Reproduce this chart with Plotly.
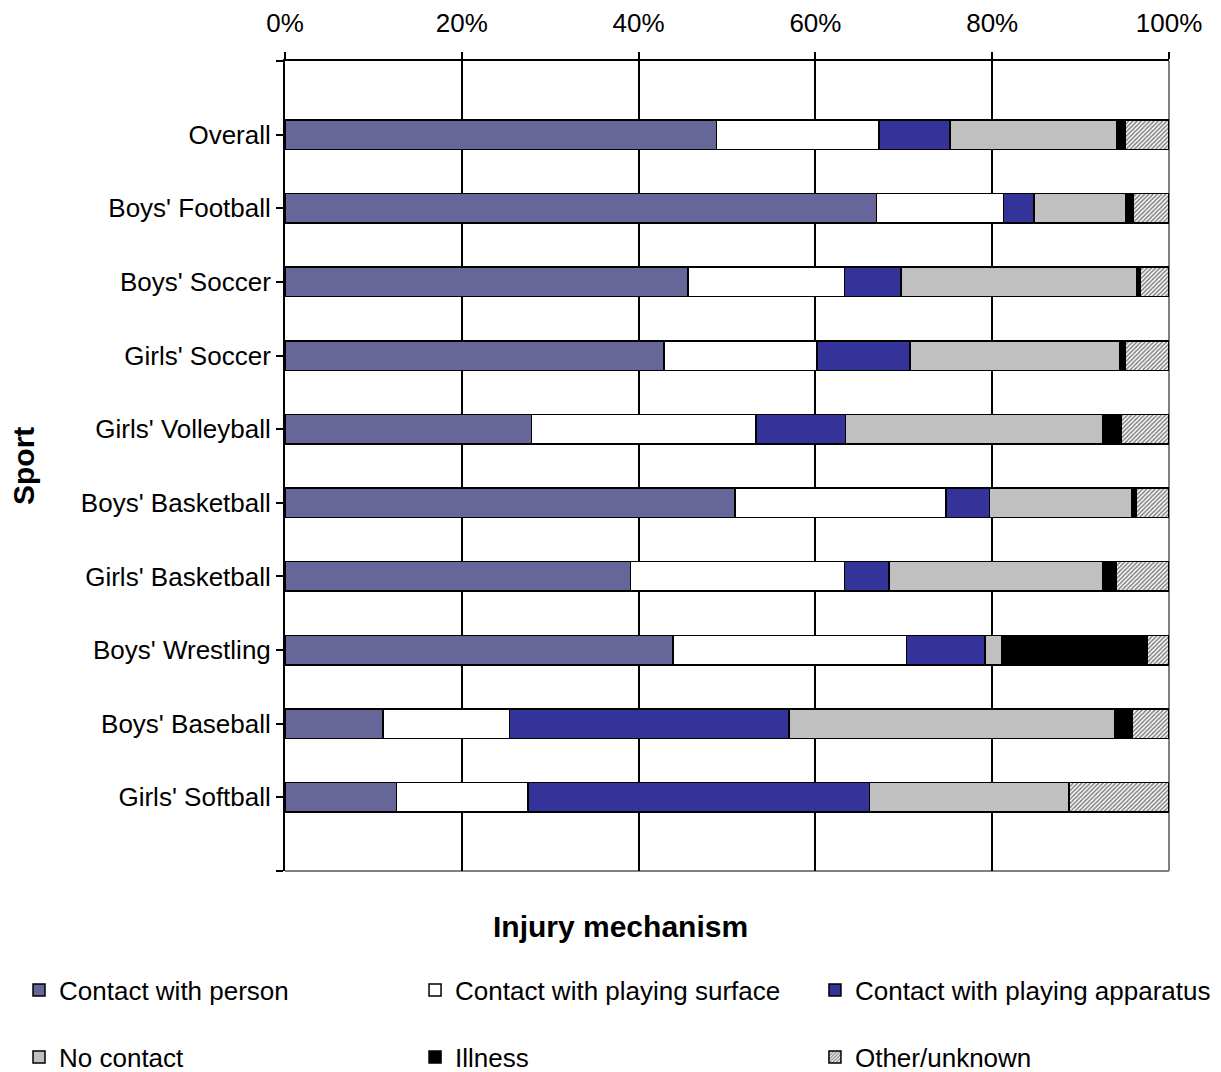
import plotly.graph_objects as go

sports = ["Overall", "Boys' Football", "Boys' Soccer", "Girls' Soccer", "Girls' Volleyball",
          "Boys' Basketball", "Girls' Basketball", "Boys' Wrestling", "Boys' Baseball", "Girls' Softball"]
person = [48.8, 66.9, 45.6, 42.9, 27.9, 50.9, 39.1, 43.9, 11.1, 12.6]
surface = [18.4, 14.4, 17.7, 17.3, 25.4, 23.9, 24.2, 26.4, 14.3, 14.9]
apparatus = [8.0, 3.4, 6.4, 10.5, 10.1, 4.9, 5.0, 8.9, 31.6, 38.6]
nocontact = [18.9, 10.4, 26.7, 23.7, 29.1, 16.1, 24.2, 1.9, 36.9, 22.6]
illness = [1.0, 0.9, 0.3, 0.6, 2.1, 0.5, 1.5, 16.4, 1.9, 0.0]
other = [4.9, 4.0, 3.3, 5.0, 5.4, 3.7, 6.0, 2.5, 4.2, 11.3]

series_names = ["Contact with person", "Contact with playing surface", "Contact with playing apparatus",
                "No contact", "Illness", "Other/unknown"]
series_vals = [person, surface, apparatus, nocontact, illness, other]
colors = ["#666699", "#FFFFFF", "#333399", "#C0C0C0", "#000000", "#FFFFFF"]
x_ticks = [0, 20, 40, 60, 80, 100]

pos = list(range(1, len(sports) + 1))
FONT = "Liberation Sans, Arial, sans-serif"

# legend placement (paper coords): 3 columns x 2 rows
leg_x = [-0.3009, 0.1471, 0.5995]
leg_y = [-0.1469, -0.2296]

fig = go.Figure()
legend_layouts = {}
for i, (name, vals, col) in enumerate(zip(series_names, series_vals, colors)):
    marker = dict(color=col, line=dict(color="black", width=1.5))
    if name == "Other/unknown":
        marker["pattern"] = dict(shape="/", fgcolor="#000000", bgcolor="#FFFFFF", size=3, solidity=0.5)
    lname = "legend" if i == 0 else f"legend{i + 1}"
    fig.add_trace(go.Bar(
        y=pos, x=vals, name=name, orientation="h", width=0.4, marker=marker,
        legend=lname, showlegend=True,
    ))
    legend_layouts[lname] = dict(
        orientation="h", x=leg_x[i % 3], xanchor="left", y=leg_y[i // 3], yanchor="middle",
        font=dict(size=26), bgcolor="rgba(0,0,0,0)", visible=True,
    )

fig.update_layout(
    barmode="stack",
    showlegend=True,
    width=1213, height=1064,
    margin=dict(l=277, r=52, t=53, b=201, autoexpand=False),
    paper_bgcolor="white", plot_bgcolor="white",
    font=dict(family=FONT, size=26, color="black"),
    xaxis=dict(
        side="top", range=[0, 100], tickvals=x_ticks, ticktext=[f"{v}%" for v in x_ticks],
        showgrid=True, gridcolor="black", gridwidth=1.5,
        showline=True, linecolor="black", linewidth=2,
        ticks="outside", ticklen=7, tickwidth=2, tickcolor="black",
        tickfont=dict(size=26), zeroline=False, ticklabelstandoff=10,
    ),
    yaxis=dict(
        range=[len(sports) + 1, 0],
        tickvals=[0] + pos + [len(sports) + 1],
        ticktext=[""] + sports + [""],
        showgrid=False, zeroline=False,
        showline=True, linecolor="black", linewidth=2,
        ticks="outside", ticklen=7, tickwidth=2, tickcolor="black",
        tickfont=dict(size=26),
    ),
    shapes=[
        dict(type="line", xref="paper", yref="paper", x0=1, x1=1, y0=0, y1=1,
             line=dict(color="#808080", width=2), layer="between"),
        dict(type="line", xref="paper", yref="paper", x0=0, x1=1, y0=0, y1=0,
             line=dict(color="#808080", width=2), layer="between"),
    ],
    annotations=[
        dict(text="<b>Injury mechanism</b>", xref="paper", yref="paper", x=0.379, y=-0.068,
             xanchor="center", yanchor="middle", showarrow=False, font=dict(size=30)),
        dict(text="<b>Sport</b>", xref="paper", yref="paper", x=-0.2964, y=0.5, textangle=-90,
             xanchor="center", yanchor="middle", showarrow=False, font=dict(size=30)),
    ],
    **legend_layouts,
)

fig.write_html("out.html")
